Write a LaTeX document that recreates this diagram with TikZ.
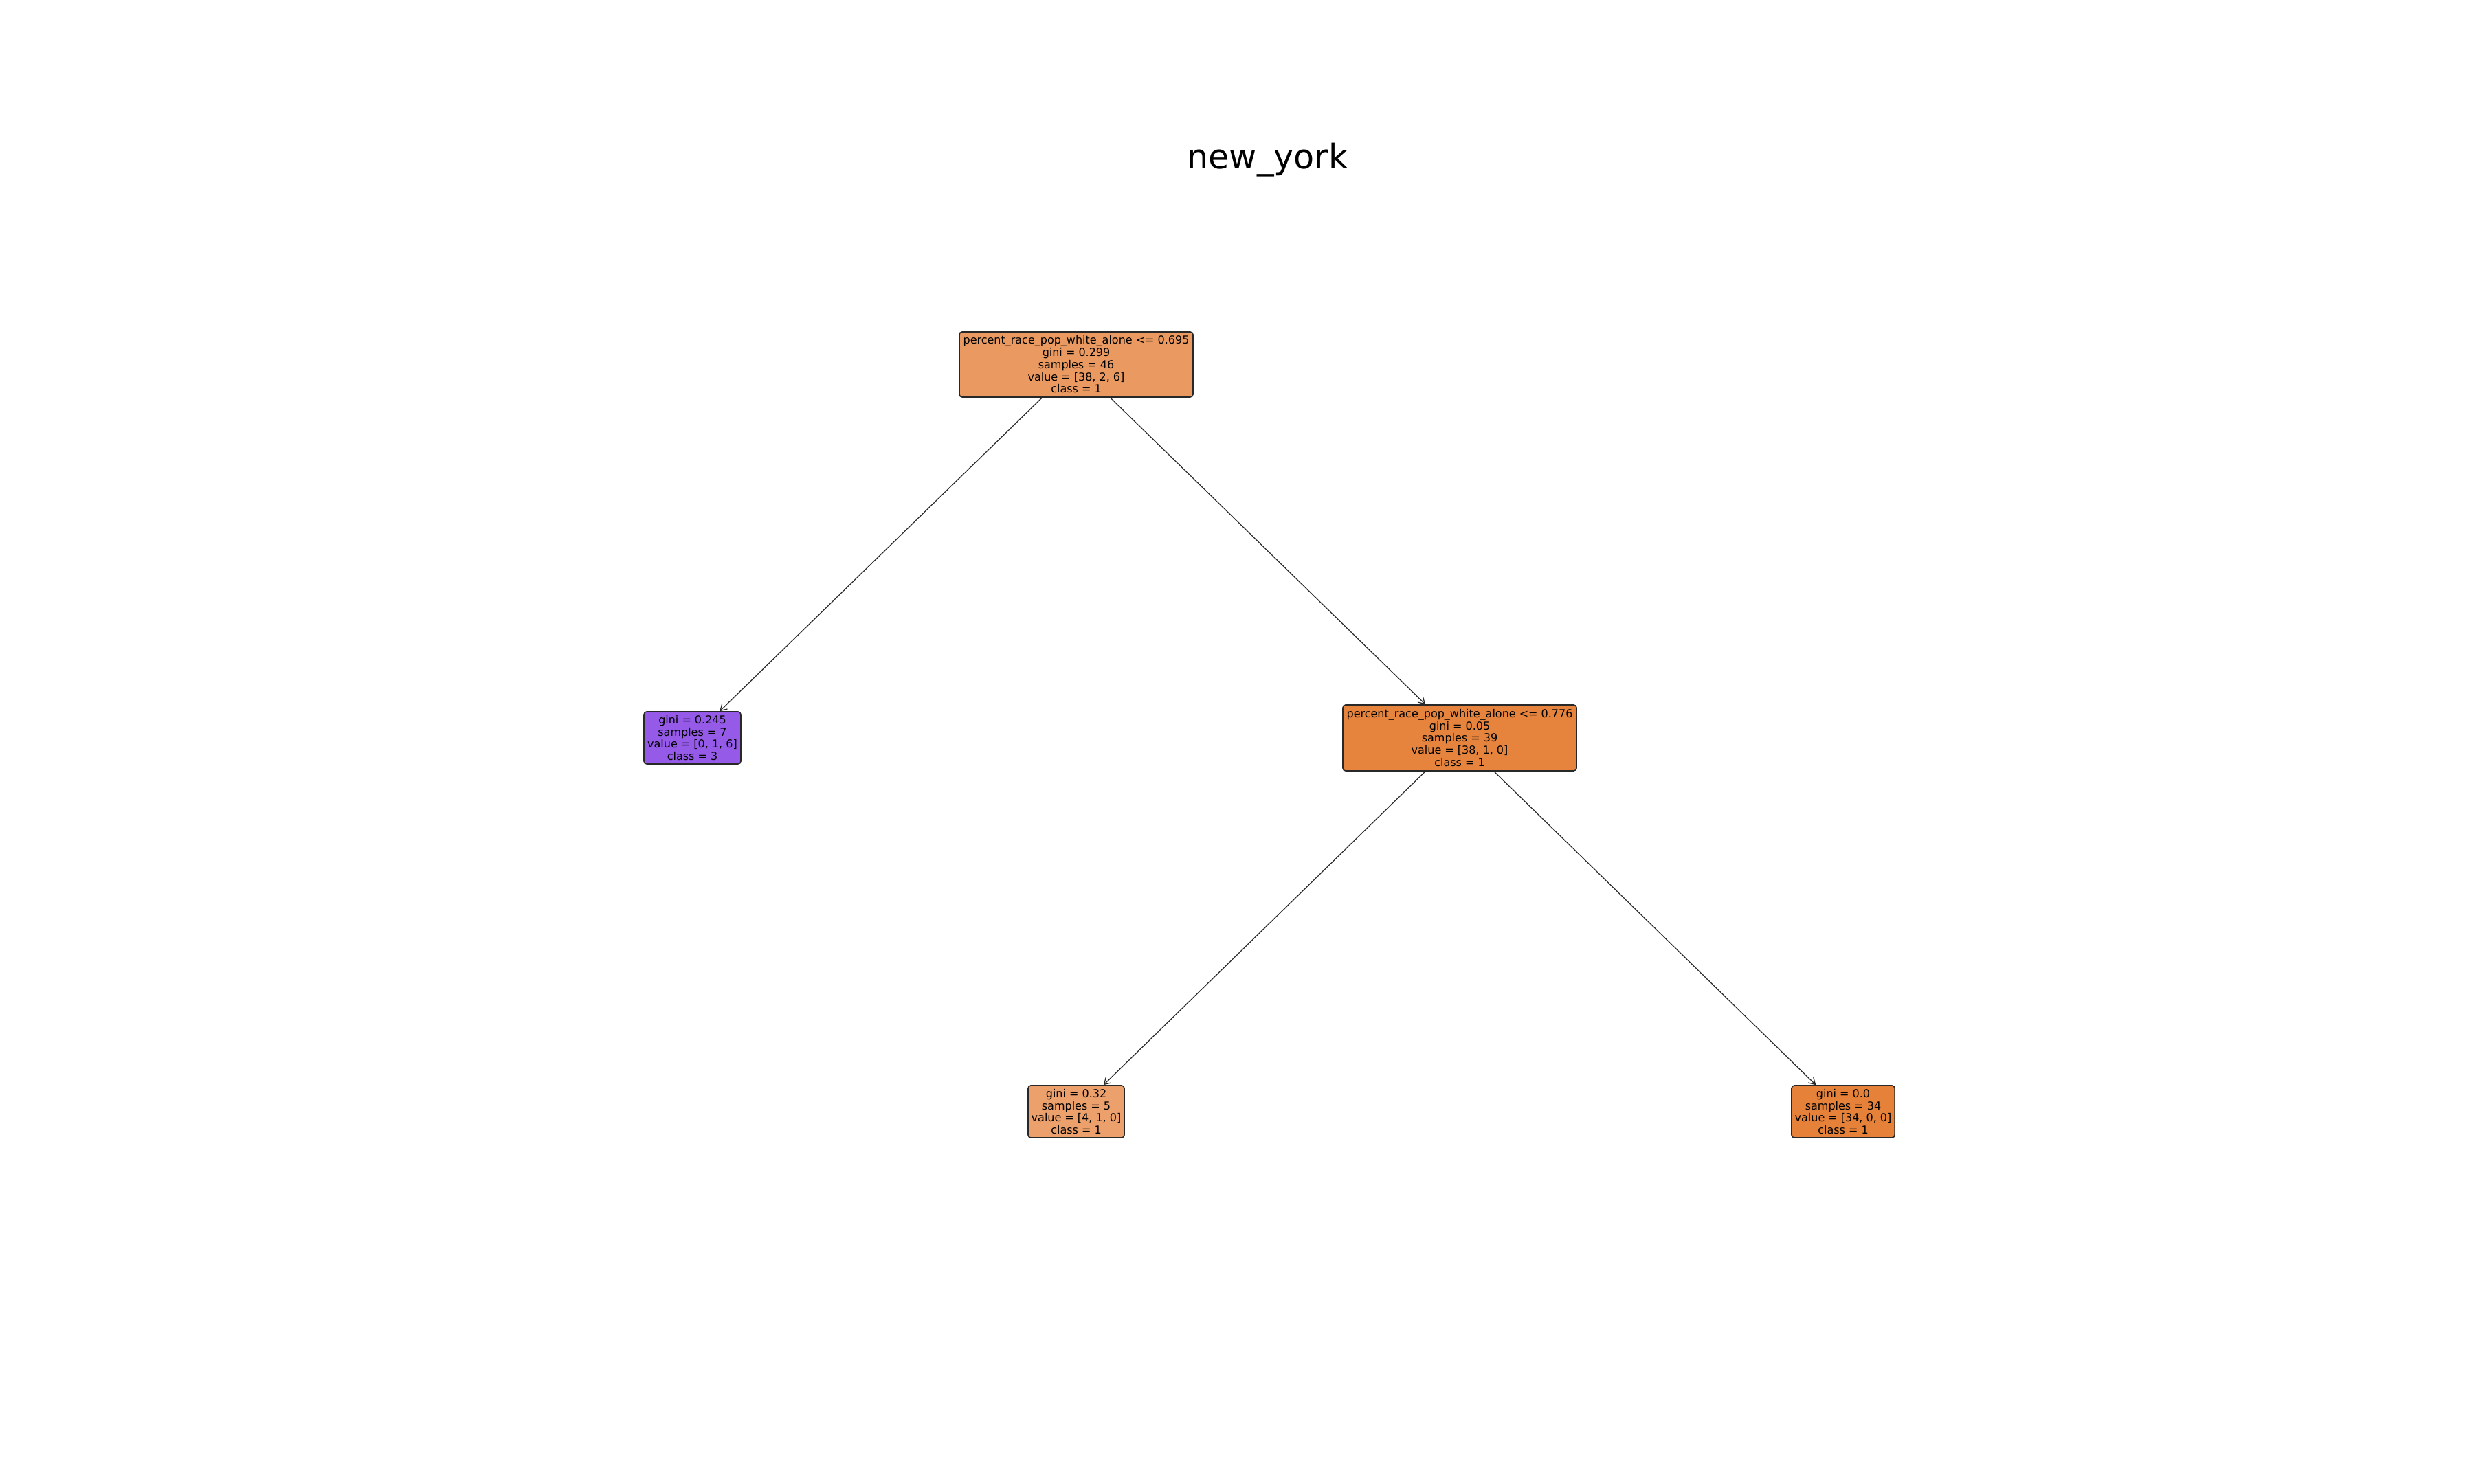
\documentclass[tikz,border=0pt]{standalone}
\usepackage{fontspec}
\setmainfont{DejaVu Sans}
\usetikzlibrary{arrows.meta}
\definecolor{cRoot}{RGB}{234,154,97}
\definecolor{cInner}{RGB}{230,132,62}
\definecolor{cPurple}{RGB}{150,90,233}
\definecolor{cLL}{RGB}{236,160,107}
\definecolor{cRR}{RGB}{229,129,57}
\definecolor{cEdge}{RGB}{40,40,40}
\tikzset{
  treenode/.style={draw=cEdge, line width=0.45pt, rounded corners=0.04cm, inner sep=0pt,
    align=center, font=\fontsize{4.55}{5.06}\selectfont, text=black},
  treeedge/.style={draw=cEdge, line width=0.35pt, -{Straight Barb[length=0.09cm,width=0.11cm,line width=0.35pt]}},
}
\begin{document}
\begin{tikzpicture}
\useasboundingbox (0,0) rectangle (36,21.6);
\fill[white] (0,0) rectangle (36,21.6);
\node[anchor=base, font=\fontsize{14}{16}\selectfont] (title) at (18.445,19.14) {new\_york};
\node[treenode, fill=cRoot, minimum width=3.40cm, minimum height=0.95cm] (root) at (15.66,16.295)
  {percent\_race\_pop\_white\_alone <= 0.695\\gini = 0.299\\samples = 46\\value = [38, 2, 6]\\class = 1};
\node[treenode, fill=cPurple, minimum width=1.41cm, minimum height=0.76cm] (left) at (10.075,10.86)
  {gini = 0.245\\samples = 7\\value = [0, 1, 6]\\class = 3};
\node[treenode, fill=cInner, minimum width=3.40cm, minimum height=0.96cm] (inner) at (21.24,10.86)
  {percent\_race\_pop\_white\_alone <= 0.776\\gini = 0.05\\samples = 39\\value = [38, 1, 0]\\class = 1};
\node[treenode, fill=cLL, minimum width=1.40cm, minimum height=0.76cm] (ll) at (15.66,5.42)
  {gini = 0.32\\samples = 5\\value = [4, 1, 0]\\class = 1};
\node[treenode, fill=cRR, minimum width=1.50cm, minimum height=0.76cm] (rr) at (26.82,5.42)
  {gini = 0.0\\samples = 34\\value = [34, 0, 0]\\class = 1};
\draw[treeedge] (root) -- (left);
\draw[treeedge] (root) -- (inner);
\draw[treeedge] (inner) -- (ll);
\draw[treeedge] (inner) -- (rr);
\end{tikzpicture}
\end{document}
